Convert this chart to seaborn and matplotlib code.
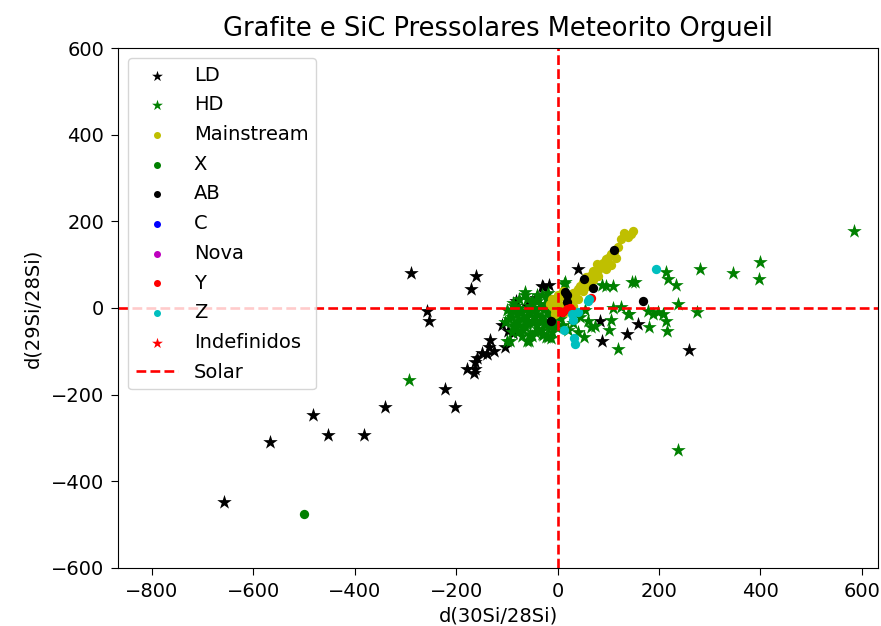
import matplotlib
matplotlib.use("Agg")
import matplotlib.pyplot as plt
import seaborn as sns

plt.rcParams['font.family'] = ['DejaVu Sans']

# LD grains (black stars)
ld_x = [-657, -568, -482, -452, -381, -340, -222, -203, -289, -161, -171, -258, -254,
        -134, -136, -140, -163, -179, -163, -165, -126, -149, -159, -104, -97, -87,
        -81, -43, -31, -16, -28, 41, 83, 87, 138, 159, 260, -45, -60, -110]
ld_y = [-447, -309, -246, -293, -293, -228, -188, -228, 80, 73, 45, -8, -31,
        -73, -91, -107, -124, -142, -142, -150, -100, -103, -115, -89, -54, -57,
        17, 22, 50, 54, 48, 91, -31, -77, -61, -36, -96, -20, 5, -40]

# HD grains (green stars)
hd_x = [584, 399, 397, 346, 281, 214, 218, 234, 146, 152, 96, 110, 87, 238, 275,
        179, 199, 209, 189, 214, 216, 181, 142, 126, 110, 106, 102, 120, 73, 53,
        237, -293, 14, 12, 67, 140,
        -65, -65, -87, -94, -104, -77, -57, -18, -2, -61, -22, -94, -100,
        -90, -80, -70, -60, -50, -40, -30, -20, -10, -75, -55, -45, -35, -25,
        -15, -5, -85, -65, -45, -30, -15, -55, -70, -40, -50, -20, -8, -100,
        -80, -60, -35, -25, -10, -5, -30, -40, 5, 10, 20, 30, 45, 55, 60, 40,
        -95, -85, -75, -65, -55, -45, -35, -25, -15, -5, -90, -70, -50, -30,
        -10, -85, -60, -40, -20, -75, -50, -25, -68, -48, -28, -58, -38, -18,
        -88, -12]
hd_y = [177, 107, 68, 80, 89, 82, 66, 54, 61, 59, 50, 50, 52, 10, -10,
        -8, -10, -15, -15, -31, -54, -45, -15, 3, 1, -27, -51, -94, -42, -66,
        -327, -167, 61, 56, -45, -13,
        31, 36, 12, -10, -33, -56, -77, -66, -45, -77, -68, -77, -77,
        -20, -30, -10, -20, -30, -40, -20, -10, -30, 0, 5, -5, 10, 0,
        15, -15, -45, -45, -55, -50, -45, -60, -25, -15, 15, 25, 5, -5,
        -15, -35, -30, -40, -55, 10, 30, 30, -25, -40, -50, -35, -20, -5, -30, -55,
        -25, -5, -40, -30, -10, -20, 0, -30, -20, -40, -55, -65, -65, -60,
        -10, 5, 20, 15, 5, 20, 0, 10, -50, -35, -62, -8, -48, 35,
        -40, -70]

# Mainstream (yellow dots)
ms_x = [132, 149, 140, 145, 125, 112, 120, 105, 100, 96, 90, 93, 85, 77, 80, 70,
        65, 57, 60, 50, 45, 40, 37, 30, 25, 20, 18, 10, 5, 0, -5, -10, 15, 25,
        35, 50, 60, 70, 80, 95, 105, 115, 30, 40, -10, 5, -15, 0, 10, -5]
ms_y = [174, 177, 165, 172, 160, 130, 140, 125, 115, 113, 105, 100, 95, 101, 88, 85,
        75, 71, 62, 60, 50, 45, 38, 35, 25, 20, 8, 5, 0, 10, -5, 5, -10, 10,
        25, 40, 50, 65, 75, 90, 100, 115, 5, 20, 20, 25, 10, 30, 40, -15]

# X (green dots)
x_x = [-500]
x_y = [-475]

# AB (black dots)
ab_x = [112, 53, 71, 18, 18, 8, -12, 169, 14]
ab_y = [135, 68, 47, 31, 13, -10, -31, 15, 36]

# Y (red dots)
yg_x = [18, 67, 8, 25]
yg_y = [-3, 24, -10, 0]

# Z (cyan dots)
z_x = [195, 61, 28, 41, 31, 12, 33, 35, 63]
z_y = [90, 17, -15, -10, -27, -50, -70, -84, 20]

fig, ax = plt.subplots(figsize=(8.81, 6.26), dpi=100)

star = 120
dot = 45
sns.scatterplot(x=ld_x, y=ld_y, marker='*', color='k', s=star, linewidth=0, label='LD', ax=ax)
sns.scatterplot(x=hd_x, y=hd_y, marker='*', color='g', s=star, linewidth=0, label='HD', ax=ax)
sns.scatterplot(x=ms_x, y=ms_y, marker='o', color='y', s=dot, linewidth=0, label='Mainstream', ax=ax)
sns.scatterplot(x=x_x, y=x_y, marker='o', color='g', s=dot, linewidth=0, label='X', ax=ax)
sns.scatterplot(x=ab_x, y=ab_y, marker='o', color='k', s=dot, linewidth=0, label='AB', ax=ax)
ax.scatter([], [], marker='o', color='b', s=dot, linewidth=0, label='C')
ax.scatter([], [], marker='o', color='m', s=dot, linewidth=0, label='Nova')
sns.scatterplot(x=yg_x, y=yg_y, marker='o', color='r', s=dot, linewidth=0, label='Y', ax=ax)
sns.scatterplot(x=z_x, y=z_y, marker='o', color='c', s=dot, linewidth=0, label='Z', ax=ax)
ax.scatter([], [], marker='*', color='r', s=star, linewidth=0, label='Indefinidos')

ax.axhline(0, color='r', linestyle='--', linewidth=1.9, label='Solar')
ax.axvline(0, color='r', linestyle='--', linewidth=1.9)

ax.set_xlim(-867, 633)
ax.set_ylim(-600, 600)
ax.set_xticks(range(-800, 601, 200))
ax.set_yticks(range(-600, 601, 200))
ax.tick_params(labelsize=14, length=5, pad=5)
ax.set_xlabel('d(30Si/28Si)', fontsize=14)
ax.set_ylabel('d(29Si/28Si)', fontsize=14, labelpad=6)
ax.set_title('Grafite e SiC Pressolares Meteorito Orgueil', fontsize=18.5, pad=9)
ax.legend(loc='upper left', fontsize=14, markerscale=0.75, handlelength=2.2,
          labelspacing=0.55)

plt.subplots_adjust(left=0.134, right=0.997, top=0.923, bottom=0.093)
plt.savefig('out.png', dpi=100)
